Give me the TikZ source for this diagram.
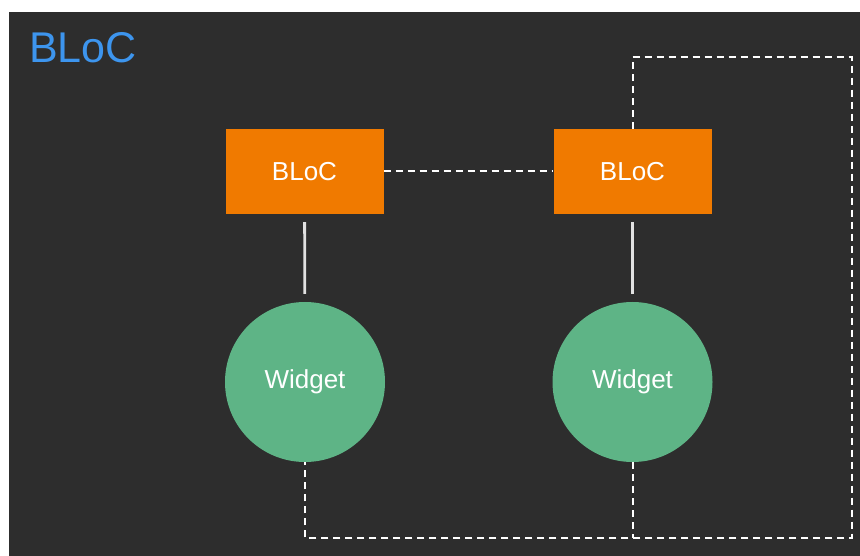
\documentclass[tikz,border=0pt]{standalone}
\usepackage{fontspec}
\setmainfont{Liberation Sans}
\definecolor{bgdark}{RGB}{45,45,45}
\definecolor{blocorange}{RGB}{240,122,0}
\definecolor{widgetgreen}{RGB}{94,180,134}
\definecolor{titleblue}{RGB}{61,149,238}
\definecolor{linegray}{RGB}{225,225,225}
\tikzset{
  blocbox/.style={rectangle, fill=blocorange, minimum width=158pt, minimum height=85pt, inner sep=0pt, text=white, font=\fontsize{26}{30}\selectfont},
  widgetnode/.style={circle, fill=widgetgreen, minimum size=160pt, inner sep=0pt, text=white, font=\fontsize{26}{30}\selectfont},
  solidlink/.style={draw=linegray, line width=2.8pt, shorten <=8pt, shorten >=8pt},
  dashlink/.style={draw=white, line width=2pt, dash pattern=on 7pt off 5pt}
}
\begin{document}
\begin{tikzpicture}[x=1pt,y=-1pt]
\useasboundingbox (0,0) rectangle (860,556);
\fill[white] (0,0) rectangle (860,556);
\fill[bgdark] (9,12) rectangle (860,556);
\node[anchor=base west, text=titleblue, font=\fontsize{43}{50}\selectfont, inner sep=0pt] (title) at (29,63) {BLoC};
\node[blocbox] (b1) at (304.5,171.5) {BLoC};
\node[blocbox] (b2) at (632.5,171.5) {BLoC};
\node[widgetnode] (w1) at (305,382) {Widget};
\node[widgetnode] (w2) at (632.5,382) {Widget};
\coordinate (tr) at (852,57);
\coordinate (br) at (852,538);
\draw[solidlink] (b1) -- (w1);
\draw[solidlink] (b2) -- (w2);
\draw[dashlink] (b1) -- (b2);
\draw[dashlink] (b2.north) |- (tr) -- (br) -| (w1.south);
\draw[dashlink] (w2.south) -- (w2.south |- br);
\end{tikzpicture}
\end{document}
